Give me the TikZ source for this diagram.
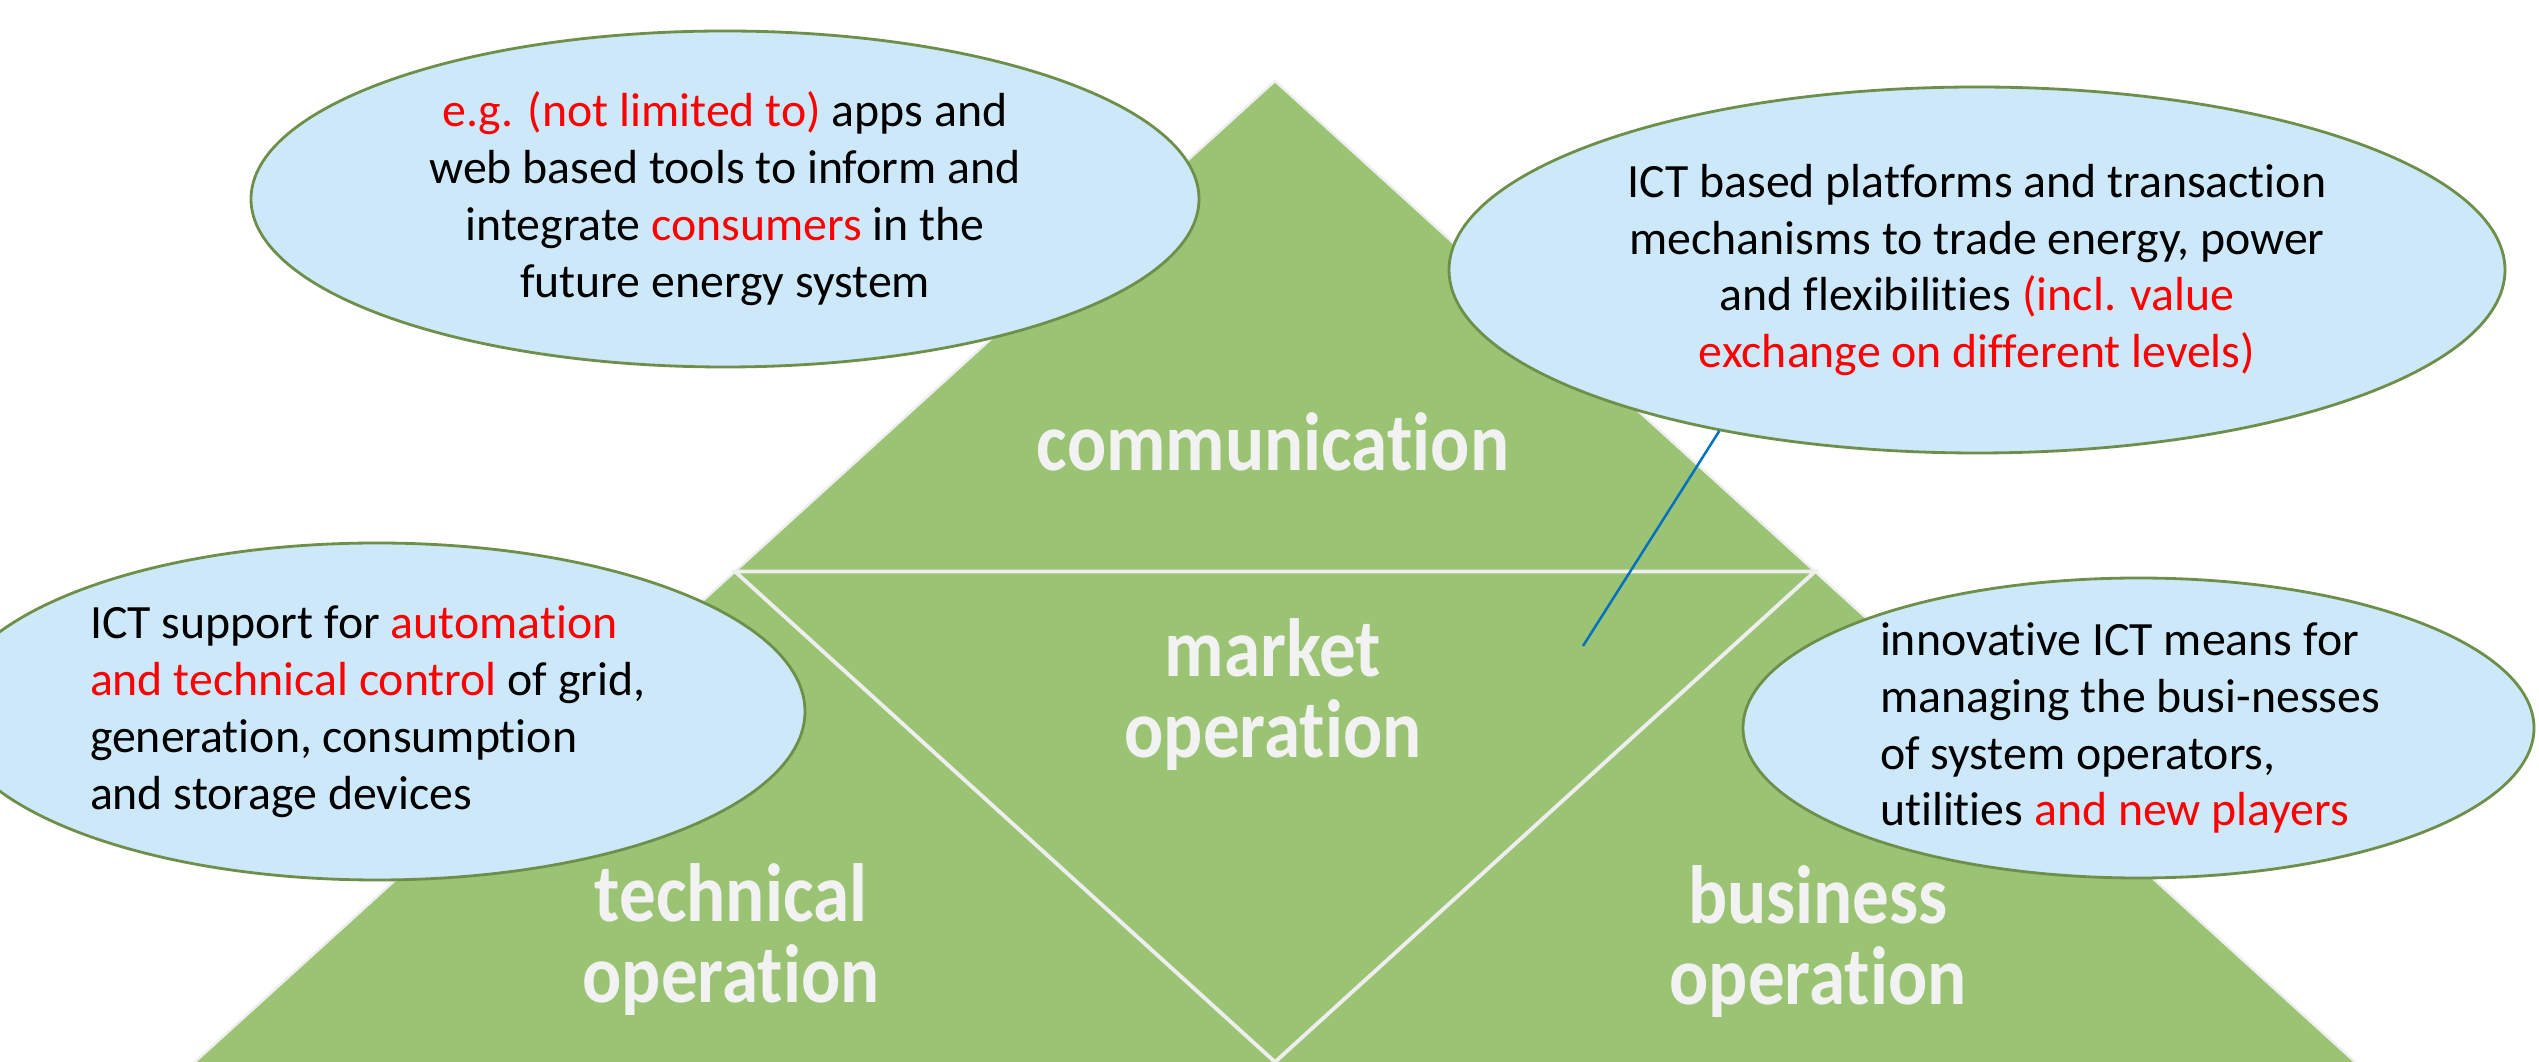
\documentclass[tikz,border=0pt]{standalone}
\usepackage{fontspec}
\setmainfont{Carlito}[Ligatures=NoCommon]
\newfontfamily\layerfont{Carlito}[FakeStretch=0.885, Ligatures=NoCommon]
\usepackage{tikz}
\usetikzlibrary{shapes.geometric, positioning}

\definecolor{pyrgreen}{HTML}{9BC374}
\definecolor{pyredge}{HTML}{EEEEEE}
\definecolor{bubblefill}{HTML}{CCE8F9}
\definecolor{bubbleedge}{HTML}{6E8F4A}
\definecolor{hlred}{HTML}{FF0000}
\definecolor{pinblue}{HTML}{0070C0}
\definecolor{labelgray}{HTML}{F2F2F2}

\newcommand{\redtext}[1]{\textcolor{hlred}{#1}}

\tikzset{
  bubble/.style={ellipse, draw=bubbleedge, line width=0.8pt, fill=bubblefill,
    inner sep=0pt, text=black, font=\fontsize{13.6}{16.2}\selectfont},
  layer/.style={text=labelgray, align=center, anchor=base,
    font=\layerfont\fontsize{23.5}{23.2}\selectfont\bfseries},
}

\begin{document}
\begin{tikzpicture}[x=1cm,y=1cm]
  \useasboundingbox (0,0) rectangle (25.39,10.62);

  % Pyramid corners
  \coordinate (top) at (12.75,9.81);
  \coordinate (bl) at (1.95,0);
  \coordinate (br) at (23.55,0);
  \coordinate (ml) at (7.35,4.905);
  \coordinate (mr) at (18.15,4.905);
  \coordinate (mb) at (12.75,0);

  % Pyramid
  \fill[pyrgreen] (top) -- (br) -- (bl) -- cycle;
  \draw[pyredge, line width=0.7pt] (bl) -- (top) -- (br);
  \draw[pyredge, line width=1.1pt] (ml) -- (mr) -- (mb) -- cycle;

  % Layer labels (base = last line)
  \node[layer] (comm) at (12.73,5.91) {communication};
  \node[layer] (market) at (12.73,3.04) {market\\operation};
  \node[layer] (tech) at (7.31,0.59) {technical\\operation};
  \node[layer] (biz) at (18.18,0.57) {business\\operation};

  % Bubbles
  \node[bubble, minimum width=9.48cm, minimum height=3.36cm, align=center] (consumer) at (7.25,8.63)
    {\redtext{e.g. (not limited to)} apps and\\web based tools to inform and\\integrate \redtext{consumers} in the\\future energy system};
  \node[bubble, minimum width=10.56cm, minimum height=3.66cm, align=center] (trade) at (19.77,7.92)
    {ICT based platforms and transaction\\mechanisms to trade energy, power\\and flexibilities \redtext{(incl. value}\\\redtext{exchange on different levels)}};
  \node[bubble, minimum width=8.56cm, minimum height=3.37cm, text width=5.74cm, align=flush left] (control) at (3.77,3.505)
    {ICT support for \redtext{automation}\\\redtext{and technical control} of grid,\\generation, consumption\\and storage devices};
  \node[bubble, minimum width=7.91cm, minimum height=3.0cm, text width=5.17cm, align=flush left] (manage) at (21.385,3.34)
    {innovative ICT means for\\managing the busi-nesses\\of system operators,\\utilities \redtext{and new players}};

  % Pointer into market layer
  \coordinate (pin) at (15.83,4.16);
  \draw[pinblue, line width=0.7pt] (trade.212) -- (pin);
\end{tikzpicture}
\end{document}
